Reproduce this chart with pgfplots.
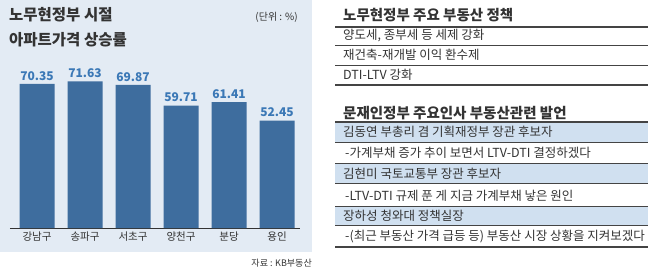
\documentclass[border=0pt]{standalone}
\usepackage{pgfplots}
\pgfplotsset{compat=1.18}
\usepackage{fontspec}
\setmainfont{Noto Sans CJK KR}
\definecolor{panel}{HTML}{E3EBF4}
\definecolor{barc}{HTML}{3E6D9E}
\definecolor{val}{HTML}{3B78B6}
\definecolor{rowshade}{HTML}{D0E0F0}
\definecolor{txt}{HTML}{333333}
\definecolor{rulec}{HTML}{444444}
\begin{document}
\begin{tikzpicture}[x=1pt,y=1pt]
\useasboundingbox (0,0) rectangle (650,271);
\fill[panel] (0,19) rectangle (312,271);
\begin{axis}[at={(10pt,43pt)}, anchor=south west, scale only axis,
  width=290pt, height=168pt,
  xmin=-0.5625, xmax=5.479, ymin=0, ymax=82,
  axis x line=bottom, axis y line=none,
  axis line style={txt, line width=0.8pt, -},
  xtick={0,...,5}, xticklabels={강남구,송파구,서초구,양천구,분당,용인},
  major tick length=0pt,
  xticklabel style={font=\fontsize{10.5}{12}\selectfont, text=txt},
  ybar, bar width=35pt,
  nodes near coords, point meta=explicit symbolic,
  every node near coord/.append style={font=\bfseries\fontsize{12}{14}\selectfont, text=val},
  clip=false]
\addplot[fill=barc, draw=none] coordinates {
  (0,70.35) [70.35]
  (1,71.63) [71.63]
  (2,69.87) [69.87]
  (3,59.71) [59.71]
  (4,61.41) [61.41]
  (5,52.45) [52.45]
};
\end{axis}
% left titles
\node[anchor=west, font=\bfseries\fontsize{15.5}{17}\selectfont, text=txt, inner sep=0] at (9,256) {노무현정부 시절};
\node[anchor=west, font=\bfseries\fontsize{15.5}{17}\selectfont, text=txt, inner sep=0] at (9,231) {아파트가격 상승률};
\node[anchor=east, font=\fontsize{10}{12}\selectfont, text=txt, inner sep=0] at (298,254) {(단위 : \%)};
\node[anchor=east, font=\fontsize{9}{11}\selectfont, text=txt, inner sep=0] at (312,8) {자료 : KB부동산};
% right table 1
\node[anchor=west, font=\bfseries\fontsize{14.5}{16}\selectfont, text=txt, inner sep=0] at (343,256) {노무현정부 주요 부동산 정책};
\draw[rulec, line width=1.2pt] (335,244) -- (648,244);
\node[anchor=west, font=\fontsize{12.5}{15}\selectfont, text=txt, inner sep=0] at (343,235) {양도세, 종부세 등 세제 강화};
\draw[rulec, line width=0.6pt] (335,226) -- (648,226);
\node[anchor=west, font=\fontsize{12.5}{15}\selectfont, text=txt, inner sep=0] at (343,216) {재건축-재개발 이익 환수제};
\draw[rulec, line width=0.6pt] (335,206) -- (648,206);
\node[anchor=west, font=\fontsize{12.5}{15}\selectfont, text=txt, inner sep=0] at (343,196) {DTI-LTV 강화};
\draw[rulec, line width=1.2pt] (335,186) -- (648,186);
% right table 2
\node[anchor=west, font=\bfseries\fontsize{14.5}{16}\selectfont, text=txt, inner sep=0] at (343,158) {문재인정부 주요인사 부동산관련 발언};
\fill[rowshade] (335,149) rectangle (648,129);
\fill[rowshade] (335,108) rectangle (648,88);
\fill[rowshade] (335,65) rectangle (648,46);
\draw[rulec, line width=1.2pt] (335,149) -- (648,149);
\node[anchor=west, font=\fontsize{12.5}{15}\selectfont, text=txt, inner sep=0] at (343,139) {김동연 부총리 겸 기획재정부 장관 후보자};
\draw[rulec, line width=0.6pt] (335,129) -- (648,129);
\node[anchor=west, font=\fontsize{12.5}{15}\selectfont, text=txt, inner sep=0] at (345,118) {-가계부채 증가 추이 보면서 LTV-DTI 결정하겠다};
\draw[rulec, line width=0.6pt] (335,108) -- (648,108);
\node[anchor=west, font=\fontsize{12.5}{15}\selectfont, text=txt, inner sep=0] at (343,97) {김현미 국토교통부 장관 후보자};
\draw[rulec, line width=0.6pt] (335,88) -- (648,88);
\node[anchor=west, font=\fontsize{12.5}{15}\selectfont, text=txt, inner sep=0] at (345,75) {-LTV-DTI 규제 푼 게 지금 가계부채 낳은 원인};
\draw[rulec, line width=0.6pt] (335,65) -- (648,65);
\node[anchor=west, font=\fontsize{12.5}{15}\selectfont, text=txt, inner sep=0] at (343,55) {장하성 청와대 정책실장};
\draw[rulec, line width=0.6pt] (335,46) -- (648,46);
\node[anchor=west, font=\fontsize{12.5}{15}\selectfont, text=txt, inner sep=0] at (345,34) {-(최근 부동산 가격 급등 등) 부동산 시장 상황을 지켜보겠다};
\draw[rulec, line width=1.2pt] (335,24) -- (648,24);
\end{tikzpicture}
\end{document}
